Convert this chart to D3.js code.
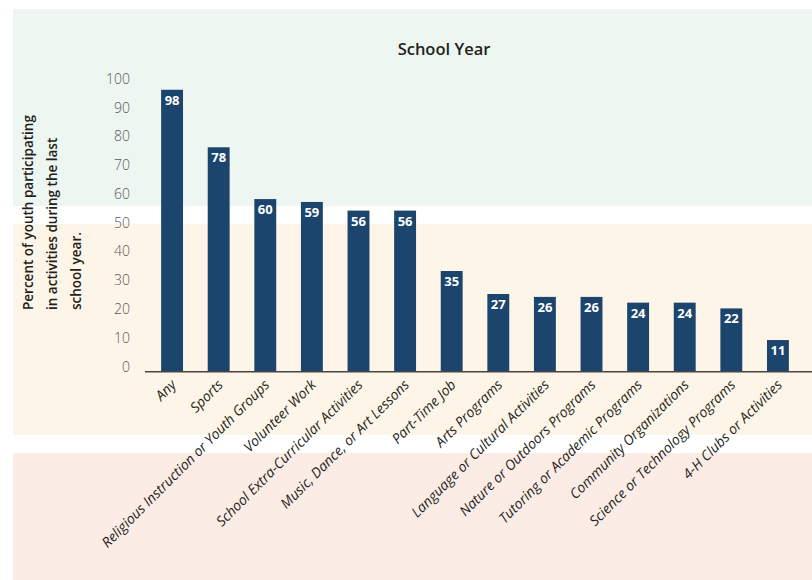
<!DOCTYPE html>
<html>
<head>
<meta charset="utf-8">
<script src="https://cdn.jsdelivr.net/npm/d3@7"></script>
<style>
  body { margin: 0; background: #fff; }
  svg { display: block; }
</style>
</head>
<body>
<div id="chart"></div>
<script>
// activity categories, in the order they are drawn
var categories = ["Any", "Sports", "Religious Instruction or Youth Groups", "Volunteer Work",
    "School Extra-Curricular Activities", "Music, Dance, or Art Lessons", "Part-Time Job",
    "Arts Programs", "Language or Cultural Activities", "Nature or Outdoors Programs",
    "Tutoring or Academic Programs", "Community Organizations", "Science or Technology Programs",
    "4-H Clubs or Activities"];
var values = [98, 78, 60, 59, 56, 56, 35, 27, 26, 26, 24, 24, 22, 11];
var yTicks = [0, 10, 20, 30, 40, 50, 60, 70, 80, 90, 100];
var yTitle = ["Percent of youth participating", "in activities during the last", "school year."];

var width = 812, height = 580;

var svg = d3.select("#chart").append("svg")
    .attr("width", width)
    .attr("height", height);

// background bands
var bands = [
    {y0: 9, y1: 206, fill: "#edf6f1"},
    {y0: 224, y1: 435, fill: "#fdf5e7"},
    {y0: 453, y1: 580, fill: "#fcece6"}
];
svg.selectAll("rect.band").data(bands).enter().append("rect")
    .attr("class", "band")
    .attr("x", 13)
    .attr("y", function(d) { return d.y0; })
    .attr("width", width - 13)
    .attr("height", function(d) { return d.y1 - d.y0; })
    .attr("fill", function(d) { return d.fill; });

var x = d3.scaleBand()
    .domain(categories)
    .range([149, 801])
    .paddingInner(0.53)
    .paddingOuter(0.26);

var y = d3.scaleLinear()
    .domain([0, 100])
    .range([371.7, 84]);

// title
svg.append("text")
    .attr("x", 444)
    .attr("y", 55)
    .attr("text-anchor", "middle")
    .attr("font-family", "'Open Sans', sans-serif")
    .attr("font-size", 16.5)
    .attr("font-weight", 600)
    .attr("fill", "#231f20")
    .text("School Year");

// y axis (labels only)
var yAxis = svg.append("g")
    .attr("transform", "translate(130,0)")
    .call(d3.axisLeft(y).tickValues(yTicks).tickSize(0).tickPadding(0));
yAxis.select(".domain").remove();
yAxis.selectAll("text")
    .attr("dy", "-0.05em")
    .attr("font-family", "'Open Sans', sans-serif")
    .attr("font-size", 14)
    .attr("font-weight", 300)
    .attr("fill", "#58595b");

// y title, three rotated lines
svg.append("g").selectAll("text").data(yTitle).enter().append("text")
    .attr("transform", function(d, i) { return "translate(" + (33 + i * 24) + ",310) rotate(-90)"; })
    .attr("font-family", "'Open Sans', sans-serif")
    .attr("font-size", 13.5)
    .attr("font-weight", 600)
    .attr("fill", "#231f20")
    .text(function(d) { return d; });

// bars
var data = categories.map(function(c, i) { return {name: c, value: values[i]}; });

svg.append("g").selectAll("rect").data(data).enter().append("rect")
    .attr("x", function(d) { return x(d.name); })
    .attr("y", function(d) { return y(d.value); })
    .attr("width", x.bandwidth())
    .attr("height", function(d) { return y(0) - y(d.value); })
    .attr("fill", "#1c456d");

svg.append("g").selectAll("text").data(data).enter().append("text")
    .attr("x", function(d) { return x(d.name) + x.bandwidth() / 2; })
    .attr("y", function(d) { return y(d.value) + 15; })
    .attr("text-anchor", "middle")
    .attr("font-family", "'Open Sans', sans-serif")
    .attr("font-size", 13)
    .attr("font-weight", 700)
    .attr("fill", "#fff")
    .text(function(d) { return d.value; });

// x axis baseline
svg.append("line")
    .attr("x1", 145).attr("x2", width)
    .attr("y1", y(0)).attr("y2", y(0))
    .attr("stroke", "#4a4543")
    .attr("stroke-width", 1.5);

// category labels at 45 degrees
svg.append("g").selectAll("text").data(data).enter().append("text")
    .attr("transform", function(d) {
        return "translate(" + (x(d.name) + x.bandwidth() / 2 + 5) + "," + (y(0) + 14) + ") rotate(-45)";
    })
    .attr("text-anchor", "end")
    .attr("font-family", "'Open Sans', sans-serif")
    .attr("font-size", 14)
    .attr("font-style", "italic")
    .attr("fill", "#231f20")
    .text(function(d) { return d.name; });
</script>
</body>
</html>
